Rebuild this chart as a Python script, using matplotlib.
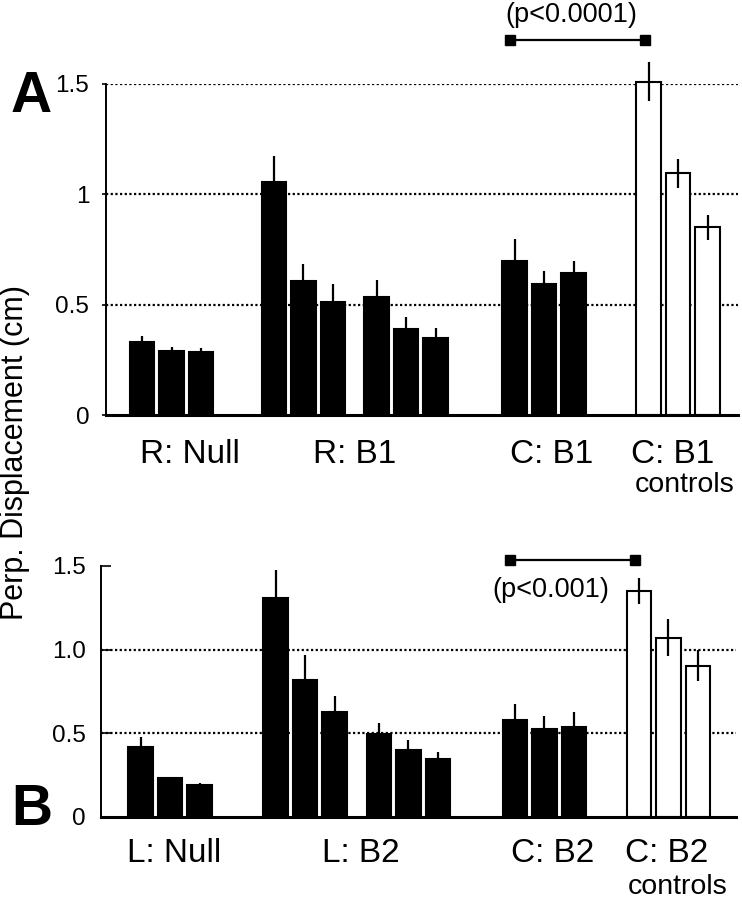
import matplotlib
matplotlib.use("Agg")
import matplotlib.pyplot as plt
import numpy as np

plt.rcParams['font.family'] = ['Liberation Sans', 'DejaVu Sans']

# ---------------- data ----------------
# Panel A
a_labels = ["R: Null", "R: B1", "C: B1", "C: B1"]
a_rnull = [0.332, 0.290, 0.284]
a_rnull_err = [0.028, 0.020, 0.020]
a_rb1 = [1.058, 0.608, 0.514, 0.537, 0.390, 0.348]
a_rb1_err = [0.117, 0.075, 0.079, 0.075, 0.053, 0.045]
a_cb1 = [0.700, 0.595, 0.645]
a_cb1_err = [0.097, 0.059, 0.053]
a_ctrl = [1.510, 1.095, 0.850]
a_ctrl_err = [0.088, 0.065, 0.057]
a_yticks = [0, 0.5, 1, 1.5]
a_yticklabels = ["0", "0.5", "1", "1.5"]
a_grid = [0.5, 1.0, 1.5]
a_ptext = "(p<0.0001)"

# Panel B
b_labels = ["L: Null", "L: B2", "C: B2", "C: B2"]
b_lnull = [0.420, 0.230, 0.190]
b_lnull_err = [0.056, 0.005, 0.012]
b_lb2 = [1.311, 0.818, 0.625, 0.493, 0.401, 0.345]
b_lb2_err = [0.165, 0.150, 0.100, 0.070, 0.058, 0.045]
b_cb2 = [0.580, 0.523, 0.535]
b_cb2_err = [0.094, 0.081, 0.090]
b_ctrl = [1.352, 1.071, 0.904]
b_ctrl_err = [0.079, 0.110, 0.095]
b_yticks = [0, 0.5, 1.0, 1.5]
b_yticklabels = ["0", "0.5", "1.0", "1.5"]
b_grid = [0.5, 1.0]
b_ptext = "(p<0.001)"

ylabel = "Perp. Displacement (cm)"
controls_word = "controls"

# ---------------- layout ----------------
W, H = 742, 900
fig = plt.figure(figsize=(W / 100, H / 100), dpi=100)
fig.patch.set_facecolor("white")


def fx(x):
    return x / W


def fy(y):
    return 1 - y / H


BAR_W = 0.83


def positions(n, st):
    if isinstance(st, tuple):
        half = n // 2
        return np.concatenate([st[0] + np.arange(half), st[1] + np.arange(n - half)])
    return st + np.arange(n)


def draw_panel(ax, groups, starts, yticks, yticklabels, grid, xlim, tickdir, ticklen, pad):
    ax.set_xlim(*xlim)
    ax.set_ylim(0, 1.5)
    for g in grid:
        ax.axhline(g, color="black", lw=1.6, ls=(0, (1.0, 1.1)), zorder=0)
    xs_all = []
    for (vals, errs, fill), st in zip(groups, starts):
        xs = positions(len(vals), st)
        ax.bar(xs, vals, width=BAR_W, color=fill, edgecolor="black",
               linewidth=1.5, zorder=2, clip_on=False)
        ax.errorbar(xs, vals, yerr=errs, fmt="none", ecolor="black",
                    elinewidth=1.6, capsize=0, zorder=3, clip_on=False)
        xs_all.append(xs)
    for s in ["top", "right"]:
        ax.spines[s].set_visible(False)
    ax.spines["bottom"].set_linewidth(2.2)
    ax.spines["left"].set_linewidth(1.4)
    ax.set_xticks([])
    ax.set_yticks(yticks)
    ax.set_yticklabels(yticklabels, fontsize=17.5)
    ax.tick_params(axis="y", direction=tickdir, length=ticklen, width=1.2, pad=pad)
    ax.patch.set_alpha(0)
    return xs_all


# Panel A axes (pixels: left spine 106, right 738, y0 415, y1.5 84)
axA = fig.add_axes([fx(106), fy(415), (738 - 106) / W, (415 - 84) / H])
a_groups = [(a_rnull, a_rnull_err, "black"),
            (a_rb1, a_rb1_err, "black"),
            (a_cb1, a_cb1_err, "black"),
            (a_ctrl, a_ctrl_err, "white")]
a_starts = [0.0, (4.47, 7.95), 12.63, 17.17]
xsA = draw_panel(axA, a_groups, a_starts, a_yticks, a_yticklabels, a_grid,
                 (-1.22, 20.2), "out", 3, 9)

# Panel B axes (pixels: left spine 101, right 736, y0 816.7, y1.5 566)
axB = fig.add_axes([fx(101), fy(816.7), (736 - 101) / W, (816.7 - 566) / H])
b_groups = [(b_lnull, b_lnull_err, "black"),
            (b_lb2, b_lb2_err, "black"),
            (b_cb2, b_cb2_err, "black"),
            (b_ctrl, b_ctrl_err, "white")]
b_starts = [-0.05, (4.53, 8.03), 12.64, 16.85]
xsB = draw_panel(axB, b_groups, b_starts, b_yticks, b_yticklabels, b_grid,
                 (-1.39, 20.14), "in", 7, 11)

# significance brackets
for ax, xs, yb in [(axA, xsA, 1.70), (axB, xsB, 1.536)]:
    x0 = xs[2][0] - 0.15
    x1 = xs[3][0] - 0.12
    ax.plot([x0, x1], [yb, yb], color="black", lw=1.6, clip_on=False, zorder=4)
    ax.plot([x0, x1], [yb, yb], ls="none", marker="s", ms=7, color="black",
            clip_on=False, zorder=4)

fig.text(fx(571), fy(15), a_ptext, fontsize=19.5, ha="center", va="center")
fig.text(fx(551), fy(590), b_ptext, fontsize=19.5, ha="center", va="center")

# category labels
lab_fs = 24
a_lab_x = [190, 355, 552, 673]
for x, t in zip(a_lab_x, a_labels):
    fig.text(fx(x), fy(463), t, fontsize=lab_fs, ha="center", va="baseline")
fig.text(fx(685), fy(492), controls_word, fontsize=20.5, ha="center", va="baseline")

b_lab_x = [174, 361, 553, 667]
for x, t in zip(b_lab_x, b_labels):
    fig.text(fx(x), fy(862), t, fontsize=lab_fs, ha="center", va="baseline")
fig.text(fx(678), fy(894), controls_word, fontsize=20.5, ha="center", va="baseline")

# panel letters
fig.text(fx(11), fy(112), "A", fontsize=41, fontweight="bold", ha="left", va="baseline")
fig.text(fx(11), fy(825), "B", fontsize=41, fontweight="bold", ha="left", va="baseline")

# y label
fig.text(fx(15), fy(453), ylabel, fontsize=22, rotation=90, ha="center", va="center")

fig.savefig("out.png", dpi=100, facecolor="white")
